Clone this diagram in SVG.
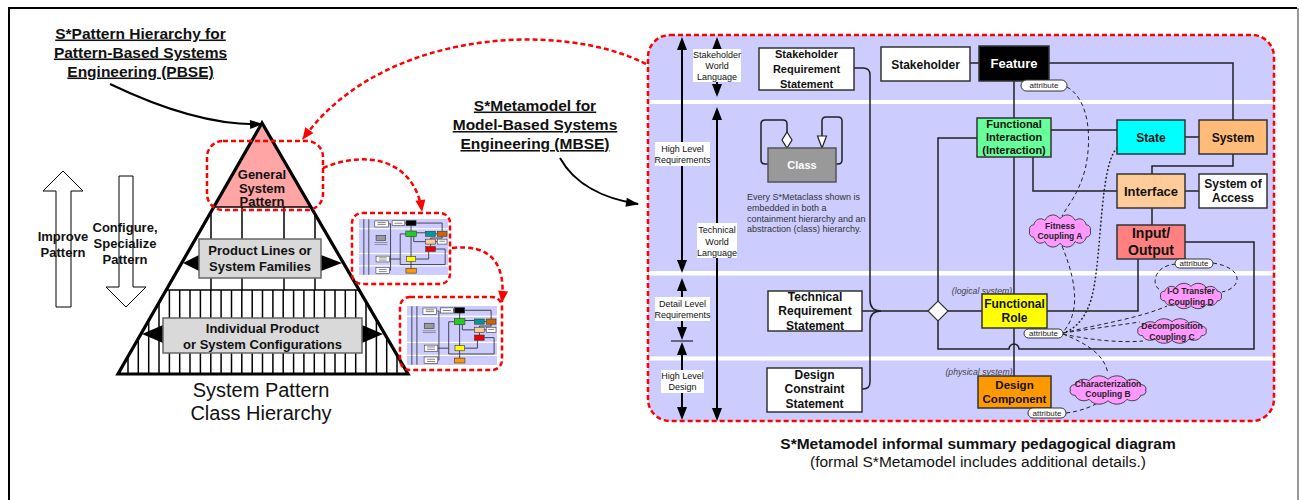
<svg xmlns="http://www.w3.org/2000/svg" width="1299" height="500" viewBox="0 0 1299 500">
<defs>
<style>
text{font-family:"Liberation Sans",Arial,sans-serif;}
.title{font-size:15.5px;font-weight:bold;text-anchor:middle;text-decoration:underline;fill:#111}
.bx{font-weight:bold;text-anchor:middle;fill:#111}
.lbl{font-size:9px;text-anchor:middle;fill:#111}
.note{font-size:9px;fill:#333}
.attr{font-size:8px;text-anchor:middle;fill:#222}
.cl{font-size:8.5px;font-weight:bold;text-anchor:middle;fill:#222}
.it{font-size:8.7px;font-style:italic;text-anchor:middle;fill:#444}
.conn{fill:none;stroke:#222;stroke-width:1.5}
.dash{fill:none;stroke:#222;stroke-width:1;stroke-dasharray:4 3}
.dot{fill:none;stroke:#222;stroke-width:1.6;stroke-dasharray:0.5 3.5;stroke-linecap:round}
.red{fill:none;stroke:#ff0000;stroke-width:2.5;stroke-dasharray:5 3}
.box{stroke:#333;stroke-width:1.5}
.pill{fill:#fff;stroke:#333;stroke-width:1}
.lblbg{fill:#fff}
.axis{fill:none;stroke:#000;stroke-width:2}
.gbox{fill:#d9d9d9;stroke:#666;stroke-width:1.5}
.hollow{fill:#fff;stroke:#000;stroke-width:1}
</style>
<marker id="ahB" markerUnits="userSpaceOnUse" markerWidth="14" markerHeight="10" refX="10" refY="5" orient="auto-start-reverse" overflow="visible"><path d="M0,0 L13,5 L0,10 z" fill="#000"/></marker>
<marker id="ahC" markerUnits="userSpaceOnUse" markerWidth="14" markerHeight="10" refX="12" refY="5" orient="auto" overflow="visible"><path d="M0,0.5 L13,5 L0,9.5 z" fill="#000"/></marker>
<marker id="ahR" markerUnits="userSpaceOnUse" markerWidth="14" markerHeight="10" refX="11" refY="5" orient="auto" overflow="visible"><path d="M0,0 L12,5 L0,10 z" fill="#ff0000"/></marker>
<clipPath id="pyrClip"><polygon points="262,123 118,374 408,374"/></clipPath>
<path id="cloudShape" d="M46,0 A6,6 0 0 1 39.8,8 A10.7,10.7 0 0 1 23,13.9 A13.9,13.9 0 0 1 0,16 A13.9,13.9 0 0 1 -23,13.9 A10.7,10.7 0 0 1 -39.8,8 A6,6 0 0 1 -46,0 A6,6 0 0 1 -39.8,-8 A10.7,10.7 0 0 1 -23,-13.9 A13.9,13.9 0 0 1 0,-16 A13.9,13.9 0 0 1 23,-13.9 A10.7,10.7 0 0 1 39.8,-8 A6,6 0 0 1 46,0 Z" fill="#ff99ff" stroke="#444" stroke-width="1" vector-effect="non-scaling-stroke"/>
<symbol id="thumb" viewBox="0 0 626 386" preserveAspectRatio="none">
<rect width="626" height="386" fill="#ccccff"/>
<rect y="63" width="626" height="8" fill="#fff"/>
<rect y="234" width="626" height="8" fill="#fff"/>
<rect y="319" width="626" height="8" fill="#fff"/>
<path d="M34,2 V384 M69,2 V384 M212,33 H222 V354 H214 M214,276 H290 M366,46 V341 M329,103 H290 V314 H606 V207 H537 M403,95 H469 M385,122 V156 H469 M504,173 V190 M399,276 H490 V224 M401,28 H585 V85 M585,119 V131 H504 V139 M537,102 H551 M537,156 H551 M322,28 H331" fill="none" stroke="#333" stroke-width="6"/>
<g stroke="#333" stroke-width="4">
<rect x="111" y="13" width="95" height="42" fill="#fff"/>
<rect x="233" y="12" width="89" height="34" fill="#fff"/>
<rect x="331" y="11" width="70" height="35" fill="#000"/>
<rect x="329" y="83" width="74" height="39" fill="#22cc22"/>
<rect x="469" y="85" width="68" height="34" fill="#009999"/>
<rect x="551" y="85" width="68" height="34" fill="#cc6600"/>
<rect x="469" y="139" width="68" height="34" fill="#ffcc99"/>
<rect x="551" y="139" width="68" height="34" fill="#fff"/>
<rect x="469" y="190" width="68" height="34" fill="#ee0000"/>
<rect x="334" y="259" width="65" height="34" fill="#ffff00"/>
<rect x="120" y="256" width="94" height="40" fill="#fff"/>
<rect x="119" y="333" width="95" height="44" fill="#fff"/>
<rect x="330" y="341" width="73" height="32" fill="#ff9900"/>
<rect x="120" y="113" width="68" height="34" fill="#999"/>
</g>
<g fill="#777">
<rect x="130" y="22" width="58" height="6"/><rect x="130" y="34" width="58" height="6"/>
<rect x="140" y="265" width="55" height="6"/><rect x="140" y="280" width="55" height="6"/>
<rect x="140" y="345" width="55" height="6"/><rect x="140" y="360" width="55" height="6"/>
<rect x="250" y="26" width="55" height="6"/><rect x="565" y="150" width="40" height="6"/>
<rect x="110" y="160" width="90" height="5"/><rect x="110" y="172" width="90" height="5"/>
</g>
</symbol>
</defs>
<rect width="1299" height="500" fill="#fff"/>
<g id="frame">
<path d="M9,500 V8 H1297" fill="none" stroke="#000" stroke-width="2"/>
<line x1="1298" y1="8" x2="1298" y2="500" stroke="#999" stroke-width="2"/>
</g>

<g id="pbse-title">
<text class="title" x="140.5" y="38.5">S*Pattern Hierarchy for</text>
<text class="title" x="140.5" y="57.5">Pattern-Based Systems</text>
<text class="title" x="140.5" y="76.5">Engineering (PBSE)</text>
</g>

<g id="improve-arrow">
<polygon class="hollow" points="63,171 83,191 71,191 71,307 56,307 56,191 43,191"/>
<text class="bx" style="font-size:13px" x="63" y="241">Improve</text>
<text class="bx" style="font-size:13px" x="63" y="257">Pattern</text>
</g>
<g id="configure-arrow">
<polygon class="hollow" points="119,176 133,176 133,287 146,287 126,307 106,287 119,287"/>
<text class="bx" style="font-size:13px" x="125" y="232">Configure,</text>
<text class="bx" style="font-size:13px" x="125" y="248">Specialize</text>
<text class="bx" style="font-size:13px" x="125" y="264">Pattern</text>
</g>

<g id="pyramid">
<polygon points="262,123 213.5,207 310.5,207" fill="#ffa5a5"/>
<g clip-path="url(#pyrClip)" stroke="#000" stroke-width="1.5">
<line x1="100" y1="207" x2="420" y2="207"/>
<line x1="100" y1="290" x2="420" y2="290"/>
<path d="M211,207 V290 M242,207 V290 M284,207 V290 M315,207 V290"/>
<path d="M128,290 V374 M138.3,290 V374 M148.7,290 V374 M159,290 V374 M169.4,290 V374 M179.7,290 V374 M190,290 V374 M200.4,290 V374 M210.8,290 V374 M221.1,290 V374 M231.5,290 V374 M241.8,290 V374 M252.2,290 V374 M262.5,290 V374 M272.9,290 V374 M283.2,290 V374 M293.6,290 V374 M303.9,290 V374 M314.3,290 V374 M324.6,290 V374 M335,290 V374 M345.3,290 V374 M355.7,290 V374 M366,290 V374 M376.4,290 V374 M386.7,290 V374 M397,290 V374"/>
</g>
<polygon points="262,123 118,374 408,374" fill="none" stroke="#000" stroke-width="3.2" stroke-linejoin="miter"/>
<text class="bx" style="font-size:13px" x="262" y="179">General</text>
<text class="bx" style="font-size:13px" x="262" y="192.5">System</text>
<text class="bx" style="font-size:13px" x="262" y="205.5">Pattern</text>
</g>
<g id="product-lines">
<polygon points="183,263 199,255 199,271" fill="#000"/>
<polygon points="342,263 321,255 321,271" fill="#000"/>
<rect class="gbox" x="199" y="239" width="122" height="39"/>
<text class="bx" style="font-size:13px" x="260" y="254.5">Product Lines or</text>
<text class="bx" style="font-size:13px" x="260" y="270.5">System Families</text>
</g>
<g id="individual-products">
<polygon points="142,334 163,325 163,343" fill="#000"/>
<polygon points="383,334 362,325 362,343" fill="#000"/>
<rect class="gbox" x="163" y="318" width="199" height="35"/>
<text class="bx" style="font-size:13px" x="262.5" y="332.5">Individual Product</text>
<text class="bx" style="font-size:13px" x="262.5" y="348.5">or System Configurations</text>
</g>
<g id="pyramid-caption">
<text x="261" y="397" style="font-size:20px" text-anchor="middle" fill="#111">System Pattern</text>
<text x="261" y="420" style="font-size:20px" text-anchor="middle" fill="#111">Class Hierarchy</text>
</g>
<g id="general-highlight">
<rect class="red" x="207" y="141" width="116" height="69" rx="16"/>
</g>

<g id="thumbnail-1">
<use href="#thumb" x="359" y="219" width="89" height="56"/>
<rect class="red" x="352" y="213" width="98" height="71" rx="10"/>
</g>
<g id="thumbnail-2">
<use href="#thumb" x="407" y="306" width="90" height="59"/>
<rect class="red" x="400" y="297" width="102" height="73" rx="10"/>
</g>

<g id="mbse-title">
<text class="title" x="535" y="110.5">S*Metamodel for</text>
<text class="title" x="535" y="130">Model-Based Systems</text>
<text class="title" x="535" y="149">Engineering (MBSE)</text>
</g>

<g id="panel">
<rect x="648" y="35" width="626" height="386" rx="22" fill="#ccccff"/>
<rect x="649" y="100" width="624" height="4" fill="#fff"/>
<rect x="649" y="271" width="624" height="4.5" fill="#fff"/>
<rect x="649" y="356.5" width="624" height="4" fill="#fff"/>
</g>

<g id="scale-arrows">
<path class="axis" d="M682,40 V270" marker-start="url(#ahB)" marker-end="url(#ahB)"/>
<path class="axis" d="M682,281 V337" marker-start="url(#ahB)" marker-end="url(#ahB)"/>
<path class="axis" d="M682,345 V417" marker-start="url(#ahB)" marker-end="url(#ahB)"/>
<line x1="671" y1="341" x2="693" y2="341" stroke="#000" stroke-width="1"/>
<path class="axis" d="M717,40 V94" marker-start="url(#ahB)" marker-end="url(#ahB)"/>
<path class="axis" d="M717,110 V418" marker-start="url(#ahB)" marker-end="url(#ahB)"/>
</g>
<g id="label-stakeholder-world">
<rect class="lblbg" x="693" y="49" width="48" height="33"/>
<text class="lbl" x="717" y="58">Stakeholder</text>
<text class="lbl" x="717" y="69">World</text>
<text class="lbl" x="717" y="80">Language</text>
</g>
<g id="label-high-level-req">
<rect class="lblbg" x="655" y="142" width="55" height="24"/>
<text class="lbl" x="682.5" y="152">High Level</text>
<text class="lbl" x="682.5" y="163">Requirements</text>
</g>
<g id="label-technical-world">
<rect class="lblbg" x="697" y="223" width="40" height="35"/>
<text class="lbl" x="717" y="233">Technical</text>
<text class="lbl" x="717" y="245">World</text>
<text class="lbl" x="717" y="256">Language</text>
</g>
<g id="label-detail-level">
<rect class="lblbg" x="655" y="297" width="55" height="24"/>
<text class="lbl" x="682.5" y="307">Detail Level</text>
<text class="lbl" x="682.5" y="318">Requirements</text>
</g>
<g id="label-high-level-design">
<rect class="lblbg" x="661" y="370" width="43" height="23"/>
<text class="lbl" x="682.5" y="379">High Level</text>
<text class="lbl" x="682.5" y="390">Design</text>
</g>

<g id="class-legend">
<path class="conn" d="M768,164 H765 Q761,164 761,160 V124 Q761,120 765,120 H783 Q787,120 787,124 V132"/>
<polygon points="787,132 792,140 787,148 782,140" fill="#fff" stroke="#222" stroke-width="1.2"/>
<path class="conn" d="M836,164 H838 Q842,164 842,160 V121 Q842,117 838,117 H826 Q822,117 822,121 V136"/>
<polygon points="817.5,136 826.5,136 822,148" fill="#fff" stroke="#222" stroke-width="1.2"/>
<rect x="768" y="148" width="68" height="34" fill="#999" stroke="#555" stroke-width="1.5"/>
<text class="bx" style="font-size:11px;fill:#fff" x="802" y="169">Class</text>
<text class="note" x="747" y="200">Every S*Metaclass shown is</text>
<text class="note" x="747" y="211">embedded in both a</text>
<text class="note" x="747" y="222">containment hierarchy and an</text>
<text class="note" x="747" y="232">abstraction (class) hierarchy.</text>
</g>

<g id="connectors">
<path class="conn" d="M970,63 H979"/>
<path class="conn" d="M1049,63 H1233 V120"/>
<path class="conn" d="M1014,81 V118"/>
<path class="conn" d="M1051,130 H1117"/>
<path class="conn" d="M1185,137 H1199"/>
<path class="conn" d="M1233,154 V166 H1152 V174"/>
<path class="conn" d="M1033,157 V191 H1117"/>
<path class="conn" d="M1185,191 H1199"/>
<path class="conn" d="M1152,208 V225"/>
<path class="conn" d="M977,138 H938 V301"/>
<path class="conn" d="M1014,157 V294"/>
<path class="conn" d="M948,311 H982"/>
<path class="conn" d="M1047,311 H1138 V259"/>
<path class="conn" d="M938,321 V349 H1009 A5,5 0 0 1 1019,349 H1254 V242 H1185"/>
<path class="conn" d="M1014,328 V376"/>
<path class="conn" d="M854,68 H863 Q870,68 870,75 V300 Q870,311 881,311"/>
<path class="conn" d="M862,389 H863 Q870,389 870,382 V322 Q870,311 881,311"/>
<path class="conn" d="M862,311 H928"/>
<path class="dash" d="M1067,87 C1090,100 1092,140 1085,170 C1078,195 1068,205 1062,216"/>
<path class="dash" d="M1062,246 C1080,290 1077,315 1064,331"/>
<path class="dot" d="M1117,148 C1100,165 1102,250 1093,292 C1088,315 1078,327 1064,333"/>
<path class="dash" d="M1063,333 C1100,324 1140,318 1167,306"/>
<path class="dash" d="M1063,333 L1140,322"/>
<path class="dash" d="M1063,334 C1090,340 1120,343 1143,341"/>
<path class="dash" d="M1063,334 C1090,345 1105,356 1108,374"/>
<path class="dash" d="M1066,413 C1082,411 1093,406 1099,402"/>
<path class="dash" d="M1176,264 C1150,266 1152,290 1162,290"/>
<path class="dash" d="M1213,263 C1245,268 1242,288 1222,292"/>
</g>

<g id="diamond">
<polygon points="928,311 938,301 948,311 938,321" fill="#fff" stroke="#333" stroke-width="1.2"/>
</g>

<g id="stakeholder-requirement">
<rect class="box" x="759" y="48" width="95" height="42" fill="#fff"/>
<text class="bx" style="font-size:11px" x="806.5" y="58">Stakeholder</text>
<text class="bx" style="font-size:11px" x="806.5" y="73">Requirement</text>
<text class="bx" style="font-size:11px" x="806.5" y="88">Statement</text>
</g>
<g id="technical-requirement">
<rect class="box" x="768" y="291" width="94" height="40" fill="#fff"/>
<text class="bx" style="font-size:12px" x="815" y="301">Technical</text>
<text class="bx" style="font-size:12px" x="815" y="315">Requirement</text>
<text class="bx" style="font-size:12px" x="815" y="330">Statement</text>
</g>
<g id="design-constraint">
<rect class="box" x="767" y="368" width="95" height="44" fill="#fff"/>
<text class="bx" style="font-size:12px" x="814.5" y="379">Design</text>
<text class="bx" style="font-size:12px" x="814.5" y="393">Constraint</text>
<text class="bx" style="font-size:12px" x="814.5" y="408">Statement</text>
</g>
<g id="stakeholder">
<rect class="box" x="881" y="47" width="89" height="34" fill="#fff"/>
<text class="bx" style="font-size:12px" x="925.5" y="68.5">Stakeholder</text>
</g>
<g id="feature">
<rect class="box" x="979" y="46" width="70" height="35" fill="#000"/>
<text class="bx" style="font-size:13px;fill:#fff" x="1014" y="67.5">Feature</text>
<rect class="pill" x="1021" y="80" width="46" height="11" rx="5.5"/>
<text class="attr" x="1044" y="88.3">attribute</text>
</g>
<g id="functional-interaction">
<rect class="box" x="977" y="118" width="74" height="39" fill="#66ff99"/>
<text class="bx" style="font-size:11px" x="1014" y="128">Functional</text>
<text class="bx" style="font-size:11px" x="1014" y="141">Interaction</text>
<text class="bx" style="font-size:11px" x="1014" y="154">(Interaction)</text>
</g>
<g id="state">
<rect class="box" x="1117" y="120" width="68" height="34" fill="#00ffff"/>
<text class="bx" style="font-size:12px" x="1151" y="141.5">State</text>
</g>
<g id="system">
<rect class="box" x="1199" y="120" width="68" height="34" fill="#ffbb77"/>
<text class="bx" style="font-size:12px" x="1233" y="141.5">System</text>
</g>
<g id="interface">
<rect class="box" x="1117" y="174" width="68" height="34" fill="#ffcc99"/>
<text class="bx" style="font-size:13px" x="1151" y="195.5">Interface</text>
</g>
<g id="system-of-access">
<rect class="box" x="1199" y="174" width="68" height="34" fill="#fff"/>
<text class="bx" style="font-size:12px" x="1233" y="188">System of</text>
<text class="bx" style="font-size:12px" x="1233" y="201.5">Access</text>
</g>
<g id="input-output">
<rect class="box" x="1117" y="225" width="68" height="34" fill="#ff8080"/>
<text class="bx" style="font-size:14px" x="1151" y="238">Input/</text>
<text class="bx" style="font-size:14px" x="1151" y="255">Output</text>
<rect class="pill" x="1175" y="259" width="38" height="9" rx="4.5"/>
<text class="attr" x="1194" y="266.3">attribute</text>
</g>
<g id="functional-role">
<text class="it" x="982" y="294">(logical system)</text>
<rect class="box" x="982" y="294" width="65" height="34" fill="#ffff00"/>
<text class="bx" style="font-size:12px" x="1014.5" y="308">Functional</text>
<text class="bx" style="font-size:12px" x="1014.5" y="322">Role</text>
<rect class="pill" x="1024" y="329" width="39" height="9" rx="4.5"/>
<text class="attr" x="1043.5" y="336.3">attribute</text>
</g>
<g id="design-component">
<text class="it" x="979" y="375">(physical system)</text>
<rect class="box" x="978" y="376" width="73" height="32" fill="#ff9900"/>
<text class="bx" style="font-size:11.5px" x="1014.5" y="389">Design</text>
<text class="bx" style="font-size:11.5px" x="1014.5" y="403">Component</text>
<rect class="pill" x="1028" y="408" width="38" height="10" rx="5"/>
<text class="attr" x="1047" y="415.8">attribute</text>
</g>
<g id="fitness-coupling">
<use href="#cloudShape" transform="translate(1060,231) scale(0.66,0.76)"/>
<text class="cl" x="1060" y="229">Fitness</text>
<text class="cl" x="1060" y="239">Coupling A</text>
</g>
<g id="io-transfer-coupling">
<use href="#cloudShape" transform="translate(1191,296) scale(0.66,0.6)"/>
<text class="cl" x="1191" y="294">I-O Transfer</text>
<text class="cl" x="1191" y="305">Coupling D</text>
</g>
<g id="decomposition-coupling">
<use href="#cloudShape" transform="translate(1172,331) scale(0.74,0.58)"/>
<text class="cl" x="1172" y="329">Decomposition</text>
<text class="cl" x="1172" y="340">Coupling C</text>
</g>
<g id="characterization-coupling">
<use href="#cloudShape" transform="translate(1108,390) scale(0.82,0.67)"/>
<text class="cl" x="1108" y="387">Characterization</text>
<text class="cl" x="1108" y="397">Coupling B</text>
</g>

<g id="panel-border">
<rect class="red" x="648" y="35" width="626" height="386" rx="22"/>
</g>

<g id="pointer-arrows">
<path d="M110,84 C160,108 212,126 262,124" fill="none" stroke="#000" stroke-width="2" marker-end="url(#ahC)"/>
<path d="M560,158 C575,185 605,199 638,204" fill="none" stroke="#000" stroke-width="2" marker-end="url(#ahC)"/>
<path class="red" d="M646,64 C560,20 380,30 303,139" marker-end="url(#ahR)"/>
<path class="red" d="M323,168 C365,150 414,158 422,211" marker-end="url(#ahR)"/>
<path class="red" d="M452,248 C490,244 506,262 502,302" marker-end="url(#ahR)"/>
</g>

<g id="caption">
<text x="978" y="448.5" text-anchor="middle" style="font-size:15.5px;font-weight:bold" fill="#111">S*Metamodel informal summary pedagogical diagram</text>
<text x="978" y="467" text-anchor="middle" style="font-size:15.5px" fill="#111">(formal S*Metamodel includes additional details.)</text>
</g>
</svg>
